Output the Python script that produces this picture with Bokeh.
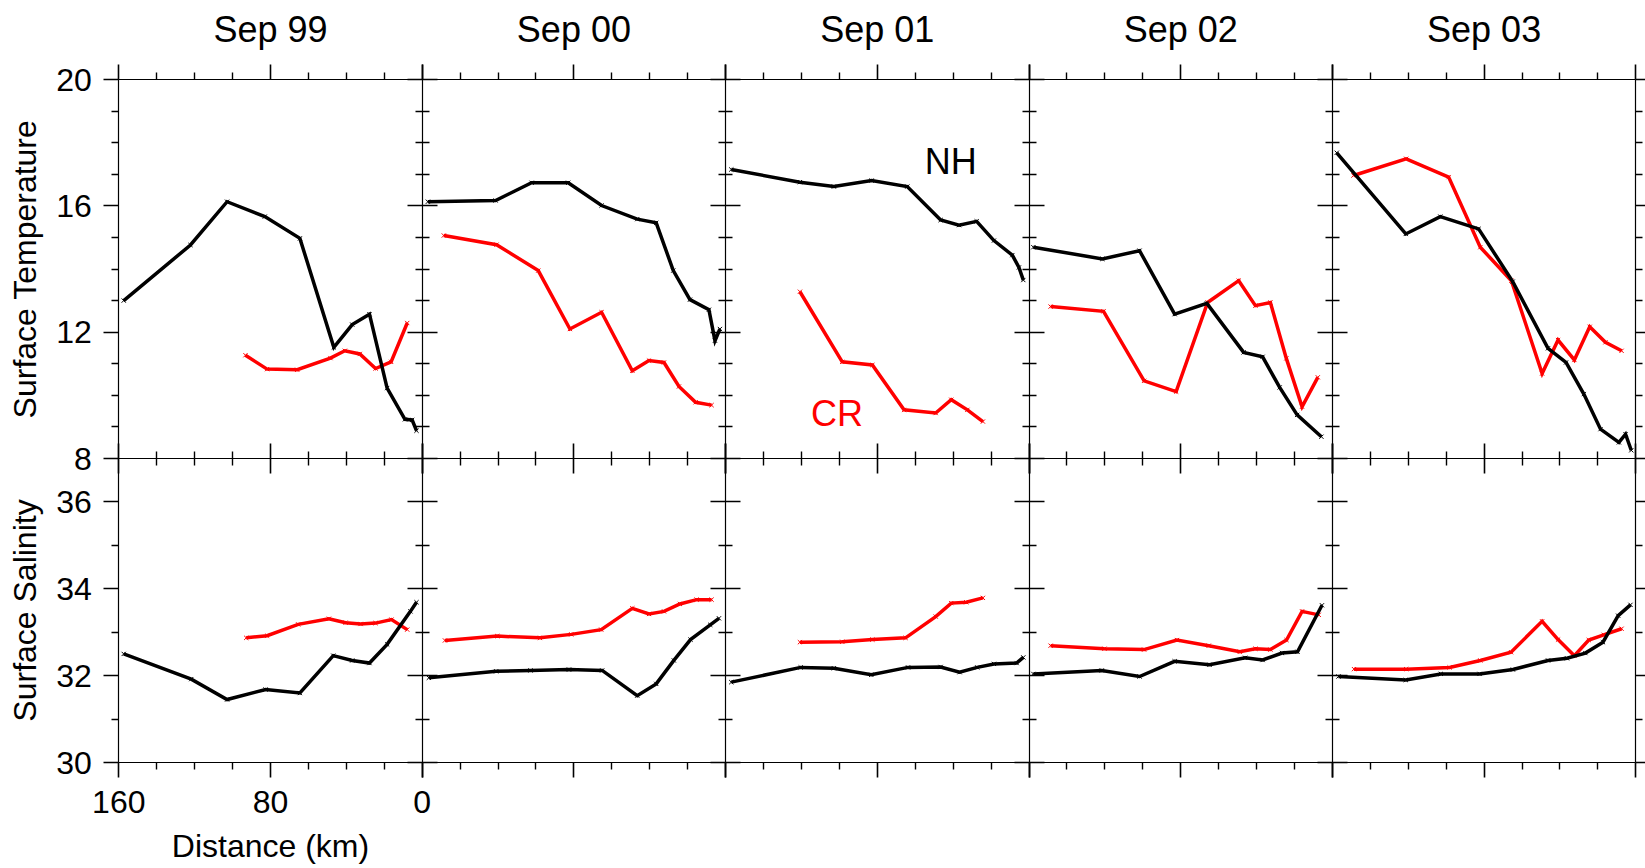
from bokeh.plotting import figure
from bokeh.models import Range1d, LinearAxis, FixedTicker, Label
from bokeh.embed import file_html
from bokeh.resources import INLINE
import math

# ---------------- data ----------------
months = ["Sep 99", "Sep 00", "Sep 01", "Sep 02", "Sep 03"]

# Surface temperature, NH line (distance km, value)
nh_temp_dist = [
    [157.4, 122.2, 102.9, 83.0, 64.5, 46.6, 36.9, 27.8, 18.5, 9.1, 5.3, 3.0],
    [157.0, 121.3, 102.3, 83.0, 65.4, 46.6, 36.6, 27.6, 18.8, 8.8, 5.6, 3.0],
    [157.0, 120.8, 102.9, 83.0, 64.2, 46.6, 36.9, 27.6, 18.5, 8.8, 5.3, 3.0],
    [157.7, 121.3, 101.7, 83.2, 66.2, 46.8, 36.8, 27.8, 18.6, 5.8],
    [157.7, 121.3, 103.1, 82.9, 64.9, 46.3, 36.8, 27.4, 18.6, 8.9, 5.4, 2.4],
]
nh_temp = [
    [13.0, 14.76, 16.13, 15.66, 14.97, 11.52, 12.24, 12.57, 10.23, 9.24, 9.22, 8.88],
    [16.13, 16.17, 16.73, 16.73, 16.01, 15.58, 15.46, 13.95, 13.03, 12.71, 11.73, 12.1],
    [17.15, 16.75, 16.61, 16.8, 16.61, 15.55, 15.39, 15.51, 14.9, 14.44, 14.05, 13.65],
    [14.69, 14.32, 14.58, 12.57, 12.91, 11.36, 11.22, 10.25, 9.38, 8.69],
    [17.68, 15.11, 15.66, 15.27, 13.6, 11.49, 11.04, 10.04, 8.93, 8.51, 8.77, 8.26],
]
# Surface temperature, CR line
cr_temp_dist = [
    [93.2, 81.8, 65.9, 48.4, 40.8, 32.9, 24.6, 16.4, 7.9],
    [148.6, 120.8, 98.8, 82.1, 65.4, 49.2, 40.4, 32.5, 24.6, 15.8, 7.4],
    [120.8, 98.5, 82.6, 65.9, 49.2, 41.0, 32.5, 24.3],
    [148.6, 120.7, 99.3, 82.4, 65.8, 49.4, 40.6, 32.7, 24.3, 16.0, 7.7],
    [148.9, 121.1, 98.7, 82.0, 65.6, 49.4, 41.0, 32.4, 24.3, 16.0, 7.5],
]
cr_temp = [
    [11.27, 10.83, 10.81, 11.18, 11.41, 11.31, 10.85, 11.06, 12.29],
    [15.06, 14.77, 13.95, 12.1, 12.63, 10.78, 11.1, 11.04, 10.28, 9.78, 9.69],
    [13.28, 11.06, 10.96, 9.54, 9.44, 9.86, 9.54, 9.17],
    [12.81, 12.66, 10.46, 10.12, 12.94, 13.63, 12.84, 12.94, 11.17, 9.64, 10.57],
    [16.96, 17.49, 16.91, 14.69, 13.63, 10.69, 11.75, 11.12, 12.17, 11.68, 11.41],
]
# Surface salinity, NH line
nh_sal_dist = [
    [157.4, 121.8, 102.9, 82.6, 64.5, 46.9, 36.9, 27.8, 18.5, 6.2, 3.0],
    [156.5, 121.0, 102.9, 82.6, 65.1, 46.6, 36.6, 27.3, 18.5, 8.1, 3.5],
    [157.0, 120.4, 102.9, 83.2, 63.8, 46.6, 36.6, 27.3, 18.5, 6.5, 3.0],
    [157.7, 121.6, 101.7, 83.2, 64.8, 46.0, 36.8, 26.6, 18.4, 5.5],
    [156.8, 121.3, 102.8, 82.4, 64.8, 46.3, 36.3, 26.6, 17.3, 9.3, 2.8],
]
nh_sal = [
    [32.5, 31.92, 31.45, 31.68, 31.6, 32.46, 32.35, 32.29, 32.72, 33.48, 33.69],
    [31.95, 32.1, 32.12, 32.14, 32.12, 31.54, 31.81, 32.35, 32.83, 33.17, 33.32],
    [31.85, 32.19, 32.17, 32.02, 32.19, 32.2, 32.08, 32.19, 32.27, 32.29, 32.42],
    [32.04, 32.12, 31.98, 32.33, 32.25, 32.41, 32.36, 32.52, 32.55, 33.62],
    [31.98, 31.9, 32.04, 32.04, 32.14, 32.35, 32.4, 32.52, 32.77, 33.38, 33.63],
]
# Surface salinity, CR line
cr_sal_dist = [
    [92.8, 81.8, 65.4, 49.2, 40.4, 32.5, 24.6, 16.2, 7.9],
    [148.0, 120.4, 97.9, 81.4, 65.6, 49.2, 40.4, 32.5, 24.1, 15.3, 7.4],
    [120.8, 98.5, 82.6, 65.1, 49.2, 41.0, 33.1, 24.3],
    [148.6, 120.2, 99.3, 82.0, 65.2, 48.8, 40.6, 32.7, 24.2, 16.0, 7.2],
    [148.6, 121.1, 98.2, 82.0, 65.8, 49.4, 41.0, 32.4, 24.8, 16.9, 7.5],
]
cr_sal = [
    [32.87, 32.92, 33.18, 33.31, 33.22, 33.19, 33.21, 33.29, 33.06],
    [32.81, 32.91, 32.87, 32.95, 33.06, 33.55, 33.42, 33.48, 33.65, 33.75, 33.75],
    [32.77, 32.78, 32.83, 32.87, 33.36, 33.67, 33.69, 33.79],
    [32.69, 32.62, 32.6, 32.82, 32.69, 32.55, 32.62, 32.6, 32.82, 33.48, 33.4],
    [32.15, 32.15, 32.19, 32.35, 32.54, 33.25, 32.83, 32.46, 32.82, 32.94, 33.08],
]

x_major = [160, 80, 0]
x_minor = [140, 120, 100, 60, 40, 20]
x_labels = {160: "160", 80: "80", 0: "0"}
t_major = [8, 12, 16, 20]
t_minor = [9, 10, 11, 13, 14, 15, 17, 18, 19]
s_major = [30, 32, 34, 36]
s_minor = [31, 33, 35]

# ---------------- layout (pixels from top-left of the page) ----------------
W, H = 1645, 868
X0 = 118.3          # left edge of first panel
PW = 303.4          # panel width
Y_TOP = 79.0        # top of temperature row
Y_MID = 458.0       # row boundary
Y_BOT = 762.0       # bottom of salinity row
NP = len(months)
XSPAN = 160.0
T_LO, T_HI = 8, 20
S_LO, S_HI = 30, 37

FONT = "Liberation Sans"
RED = "#ff0000"
BLACK = "#000000"

# the plotting frame covers the whole page; every panel gets its own ranges
p = figure(width=W, height=H, output_backend="svg", toolbar_location=None,
           x_axis_location=None, y_axis_location=None,
           x_range=Range1d(0, W), y_range=Range1d(0, H), min_border=0)
p.min_border_left = p.min_border_right = p.min_border_top = p.min_border_bottom = 0
p.outline_line_color = None
p.background_fill_color = "white"
p.border_fill_color = "white"
p.grid.visible = False

kx = XSPAN / PW
for i in range(NP):
    left = X0 + i * PW
    p.extra_x_ranges[f"p{i}"] = Range1d(XSPAN + left * kx, XSPAN - (W - left) * kx)
kt = (T_HI - T_LO) / (Y_MID - Y_TOP)
p.extra_y_ranges["T"] = Range1d(T_HI - (H - Y_TOP) * kt, T_HI + Y_TOP * kt)
ks = (S_HI - S_LO) / (Y_BOT - Y_MID)
p.extra_y_ranges["S"] = Range1d(S_HI - (H - Y_MID) * ks, S_HI + Y_MID * ks)


def axis(side, xr, yr, fixed, bounds, major, minor, tin=0, tout=0, labels=None,
         standoff=10):
    ax = LinearAxis(fixed_location=fixed, x_range_name=xr, y_range_name=yr,
                    bounds=bounds, ticker=FixedTicker(ticks=major, minor_ticks=minor))
    ax.axis_line_color = BLACK
    ax.axis_line_width = 1.2
    ax.major_tick_line_color = BLACK
    ax.major_tick_line_width = 1.6
    ax.minor_tick_line_color = BLACK
    ax.minor_tick_line_width = 1.4
    ax.major_tick_in = tin
    ax.major_tick_out = tout
    ax.minor_tick_in = tin // 2
    ax.minor_tick_out = tout // 2
    if labels is None:
        ax.major_label_text_color = None
    else:
        ax.major_label_overrides = labels
        ax.major_label_text_font = FONT
        ax.major_label_text_font_size = "32px"
        ax.major_label_text_color = BLACK
        ax.major_label_standoff = standoff
    p.add_layout(ax, side)
    return ax


for i in range(NP):
    xr = f"p{i}"
    xb = (0, XSPAN)
    # top edge
    axis("above", xr, "T", T_HI, xb, x_major, x_minor, tout=15)
    # boundary between the two rows
    axis("below", xr, "T", T_LO, xb, x_major, x_minor, tin=15, tout=15)
    # bottom edge
    axis("below", xr, "S", S_LO, xb, x_major, x_minor, tout=15,
         labels=(dict(x_labels) if i == 0 else None), standoff=13)
    # vertical boundaries
    if i == 0:
        axis("left", xr, "T", XSPAN, (T_LO, T_HI), t_major, t_minor, tout=15,
             labels={v: str(v) for v in t_major}, standoff=12)
        axis("left", xr, "S", XSPAN, (S_LO, S_HI), s_major, s_minor, tout=15,
             labels={v: str(v) for v in s_major}, standoff=12)
    else:
        axis("left", xr, "T", XSPAN, (T_LO, T_HI), t_major, t_minor, tin=15, tout=15)
        axis("left", xr, "S", XSPAN, (S_LO, S_HI), s_major, s_minor, tin=15, tout=15)
    if i == NP - 1:
        axis("right", xr, "T", 0, (T_LO, T_HI), t_major, t_minor, tout=15)
        axis("right", xr, "S", 0, (S_LO, S_HI), s_major, s_minor, tout=15)

# ---------------- data lines ----------------
series = [
    (cr_temp_dist, cr_temp, "T", RED),
    (nh_temp_dist, nh_temp, "T", BLACK),
    (cr_sal_dist, cr_sal, "S", RED),
    (nh_sal_dist, nh_sal, "S", BLACK),
]
for dists, vals, yr, col in series:
    for i in range(NP):
        p.line(dists[i], vals[i], x_range_name=f"p{i}", y_range_name=yr,
               line_color=col, line_width=3.5, line_join="miter")
        p.scatter(dists[i], vals[i], x_range_name=f"p{i}", y_range_name=yr,
                  marker="x", size=6, line_color=col, line_width=1)

# ---------------- texts ----------------
for i, m in enumerate(months):
    p.add_layout(Label(x=XSPAN / 2, y=T_HI, x_range_name=f"p{i}", y_range_name="T",
                       text=m, text_align="center", text_baseline="alphabetic",
                       y_offset=50, text_font=FONT, text_font_size="36px",
                       text_color=BLACK))

p.add_layout(Label(x=XSPAN, y=(T_LO + T_HI) / 2, x_range_name="p0", y_range_name="T",
                   text="Surface Temperature", angle=math.pi / 2,
                   text_align="center", text_baseline="alphabetic",
                   x_offset=-(X0 - 24), text_font=FONT, text_font_size="32px",
                   text_color=BLACK))
p.add_layout(Label(x=XSPAN, y=(S_LO + S_HI) / 2, x_range_name="p0", y_range_name="S",
                   text="Surface Salinity", angle=math.pi / 2,
                   text_align="center", text_baseline="alphabetic",
                   x_offset=-(X0 - 24), text_font=FONT, text_font_size="32px",
                   text_color=BLACK))
p.add_layout(Label(x=XSPAN / 2, y=S_LO, x_range_name="p0", y_range_name="S",
                   text="Distance (km)", text_align="center", text_baseline="alphabetic",
                   y_offset=-83, text_font=FONT, text_font_size="32px",
                   text_color=BLACK))

p.add_layout(Label(x=55, y=17.0, x_range_name="p2", y_range_name="T",
                   text="NH", text_align="left", text_baseline="alphabetic",
                   y_offset=13, text_font=FONT, text_font_size="36px", text_color=BLACK))
p.add_layout(Label(x=115, y=9.0, x_range_name="p2", y_range_name="T",
                   text="CR", text_align="left", text_baseline="alphabetic",
                   y_offset=13, text_font=FONT, text_font_size="36px", text_color=RED))

open("out.html", "w").write(file_html(p, INLINE))
